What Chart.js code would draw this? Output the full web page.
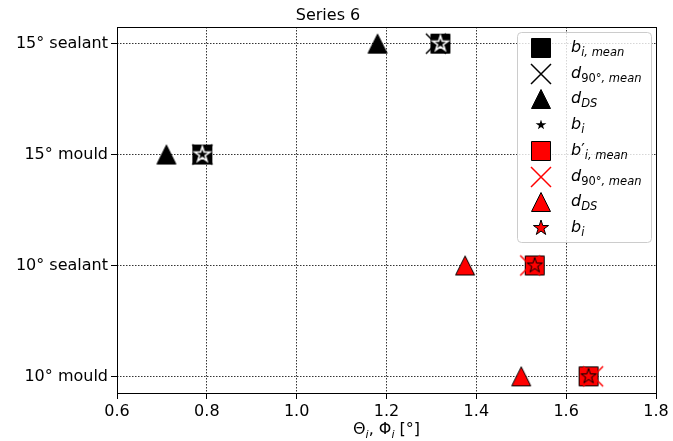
<!DOCTYPE html>
<html><head><meta charset="utf-8">
<script src="https://cdn.jsdelivr.net/npm/chart.js@4/dist/chart.umd.min.js"></script>
<style>html,body{margin:0;padding:0;background:#fff}#wrap{width:673px;height:441px;position:relative}</style>
</head><body><div id="wrap"><canvas id="c"></canvas></div>
<script>
// ---- data ----
const categories = ['10° mould', '10° sealant', '15° mould', '15° sealant'];
const xTickValues = [0.6, 0.8, 1.0, 1.2, 1.4, 1.6, 1.8];
const chartTitle = 'Series 6';

// black markers: 15° specimens
const cat15 = ['15° mould', '15° sealant'];
const bMean15 = [0.79, 1.32];
const d90Mean15 = [0.79, 1.31];
const dDS15 = [0.71, 1.18];
const bi15 = [0.79, 1.32];

// red markers: 10° specimens
const cat10 = ['10° mould', '10° sealant'];
const bMean10 = [1.65, 1.53];
const d90Mean10 = [1.66, 1.52];
const dDS10 = [1.50, 1.375];
const bi10 = [1.65, 1.53];

const FONT = '"DejaVu Sans", sans-serif';
const TICK = 16;

function makeMarker(kind, fill, edge, lw) {
  const S = 30, c = document.createElement('canvas');
  c.width = S; c.height = S;
  const g = c.getContext('2d');
  g.translate(S / 2, S / 2);
  g.lineJoin = 'miter'; g.miterLimit = 10;
  g.lineWidth = lw; g.strokeStyle = edge; g.fillStyle = fill;
  g.beginPath();
  if (kind === 'square') { g.rect(-9.5, -9.5, 19, 19); g.fill(); g.stroke(); }
  else if (kind === 'cross') { g.moveTo(-10, -10); g.lineTo(10, 10); g.moveTo(-10, 10); g.lineTo(10, -10); g.stroke(); }
  else if (kind === 'triangle') { g.moveTo(0, -9.5); g.lineTo(-9.5, 9.5); g.lineTo(9.5, 9.5); g.closePath(); g.fill(); g.stroke(); }
  else if (kind === 'star') {
    const R = 8, r = R * 0.381966;
    for (let k = 0; k < 10; k++) {
      const a = -Math.PI / 2 + k * Math.PI / 5, rr = k % 2 ? r : R;
      g.lineTo(rr * Math.cos(a), rr * Math.sin(a));
    }
    g.closePath(); g.fill(); g.stroke();
  }
  return c;
}

const M = {
  bSq: makeMarker('square', '#000', '#000', 1),
  bX: makeMarker('cross', '#000', '#000', 1.5),
  bTri: makeMarker('triangle', '#000', '#000', 1),
  bStar: makeMarker('star', '#000', '#fff', 1.6),
  rSq: makeMarker('square', '#ff0000', '#000', 1),
  rX: makeMarker('cross', '#ff0000', '#ff0000', 1.5),
  rTri: makeMarker('triangle', '#ff0000', '#000', 1),
  rStar: makeMarker('star', '#ff0000', '#000', 1)
};

function pts(xs, cats) { return xs.map((v, i) => ({ x: v, y: categories.indexOf(cats[i]) })); }

const legendItems = [
  { img: M.bSq, segs: [{ t: 'b', it: 1 }, { t: 'i, mean', it: 1, sub: 1 }] },
  { img: M.bX, segs: [{ t: 'd', it: 1 }, { t: '90°', sub: 1 }, { t: ', mean', it: 1, sub: 1 }] },
  { img: M.bTri, segs: [{ t: 'd', it: 1 }, { t: 'DS', it: 1, sub: 1 }] },
  { img: M.bStar, segs: [{ t: 'b', it: 1 }, { t: 'i', it: 1, sub: 1 }] },
  { img: M.rSq, segs: [{ t: 'b', it: 1 }, { t: '′' }, { t: 'i, mean', it: 1, sub: 1 }] },
  { img: M.rX, segs: [{ t: 'd', it: 1 }, { t: '90°', sub: 1 }, { t: ', mean', it: 1, sub: 1 }] },
  { img: M.rTri, segs: [{ t: 'd', it: 1 }, { t: 'DS', it: 1, sub: 1 }] },
  { img: M.rStar, segs: [{ t: 'b', it: 1 }, { t: 'i', it: 1, sub: 1 }] }
];

const datasets = [
  { label: 'b_i,mean', data: pts(bMean15, cat15), pointStyle: M.bSq, order: 3 },
  { label: 'd_90,mean', data: pts(d90Mean15, cat15), pointStyle: M.bX, order: 2 },
  { label: 'd_DS', data: pts(dDS15, cat15), pointStyle: M.bTri, order: 1 },
  { label: 'b_i', data: pts(bi15, cat15), pointStyle: M.bStar, order: 0 },
  { label: "b'_i,mean", data: pts(bMean10, cat10), pointStyle: M.rSq, order: 3 },
  { label: 'd_90,mean', data: pts(d90Mean10, cat10), pointStyle: M.rX, order: 2 },
  { label: 'd_DS', data: pts(dDS10, cat10), pointStyle: M.rTri, order: 1 },
  { label: 'b_i', data: pts(bi10, cat10), pointStyle: M.rStar, order: 0 }
].map(d => Object.assign(d, { showLine: false, pointRadius: 10, pointHoverRadius: 10 }));

function segFont(s, main, sub) { return (s.it ? 'italic ' : '') + (s.sub ? sub : main) + 'px ' + FONT; }
function drawRich(ctx, x, y, segs, align, main, sub, dy) {
  let w = 0;
  segs.forEach(s => { ctx.font = segFont(s, main, sub); s.w = ctx.measureText(s.t).width; w += s.w; });
  let cx = align === 'center' ? x - w / 2 : x;
  ctx.textAlign = 'left'; ctx.textBaseline = 'alphabetic'; ctx.fillStyle = '#000';
  segs.forEach(s => { ctx.font = segFont(s, main, sub); ctx.fillText(s.t, cx, y + (s.sub ? dy : 0)); cx += s.w; });
}

const decor = {
  id: 'decor',
  afterDraw(chart) {
    const ctx = chart.ctx, a = chart.chartArea;
    ctx.save();
    // frame
    ctx.strokeStyle = '#000'; ctx.lineWidth = 1; ctx.setLineDash([]);
    ctx.strokeRect(Math.round(a.left) + 0.5, Math.round(a.top) + 0.5, Math.round(a.right - a.left), Math.round(a.bottom - a.top));
    // x axis title
    drawRich(ctx, (a.left + a.right) / 2, 434, [{ t: 'Θ' }, { t: 'i', it: 1, sub: 1 }, { t: ', Φ' }, { t: 'i', it: 1, sub: 1 }, { t: ' [°]' }], 'center', 16, 11, 3.5);
    // legend
    const lx = 517.5, ly = 32.5, lw = 134, lh = 210, r = 4;
    ctx.beginPath();
    ctx.moveTo(lx + r, ly); ctx.lineTo(lx + lw - r, ly); ctx.quadraticCurveTo(lx + lw, ly, lx + lw, ly + r);
    ctx.lineTo(lx + lw, ly + lh - r); ctx.quadraticCurveTo(lx + lw, ly + lh, lx + lw - r, ly + lh);
    ctx.lineTo(lx + r, ly + lh); ctx.quadraticCurveTo(lx, ly + lh, lx, ly + lh - r);
    ctx.lineTo(lx, ly + r); ctx.quadraticCurveTo(lx, ly, lx + r, ly); ctx.closePath();
    ctx.fillStyle = 'rgba(255,255,255,0.8)'; ctx.fill();
    ctx.strokeStyle = '#cccccc'; ctx.lineWidth = 1; ctx.stroke();
    legendItems.forEach((it, i) => {
      const y = 48 + i * 25.7;
      ctx.drawImage(it.img, 541 - it.img.width / 2, Math.round(y) - it.img.height / 2);
      drawRich(ctx, 571, y + 4, it.segs, 'left', 16, 11.5, 4);
    });
    ctx.restore();
  }
};

const tickFont = { family: FONT, size: TICK };
new Chart(document.getElementById('c'), {
  type: 'scatter',
  data: { datasets },
  options: {
    responsive: true, maintainAspectRatio: false, animation: false, events: [],
    layout: { padding: { left: 0, right: 17, top: 0, bottom: 0 } },
    plugins: {
      legend: { display: false }, tooltip: { enabled: false },
      title: { display: true, text: chartTitle, color: '#000', font: { family: FONT, size: TICK, weight: 'normal' }, padding: { top: 6, bottom: 1.8 } }
    },
    scales: {
      x: {
        type: 'linear', min: 0.6, max: 1.8,
        afterBuildTicks: s => { s.ticks = xTickValues.map(v => ({ value: v })); },
        afterFit: s => { s.height = 48; },
        ticks: { callback: v => Number(v).toFixed(1), color: '#000', font: tickFont, padding: 3, maxRotation: 0, autoSkip: false },
        grid: { color: '#000', lineWidth: 0.8, tickLength: 6, tickColor: '#000', tickWidth: 1, tickBorderDash: [] },
        border: { display: false, dash: [1.5, 1.5] }
      },
      y: {
        type: 'linear', min: -0.15, max: 3.15,
        afterBuildTicks: s => { s.ticks = categories.map((_, i) => ({ value: i })); },
        afterFit: s => { s.width = 117; },
        ticks: { callback: v => categories[v], color: '#000', font: tickFont, padding: 3, autoSkip: false },
        grid: { color: '#000', lineWidth: 0.8, tickLength: 6, tickColor: '#000', tickWidth: 1, tickBorderDash: [] },
        border: { display: false, dash: [1.5, 1.5] }
      }
    }
  },
  plugins: [decor]
});
</script>
</body></html>
